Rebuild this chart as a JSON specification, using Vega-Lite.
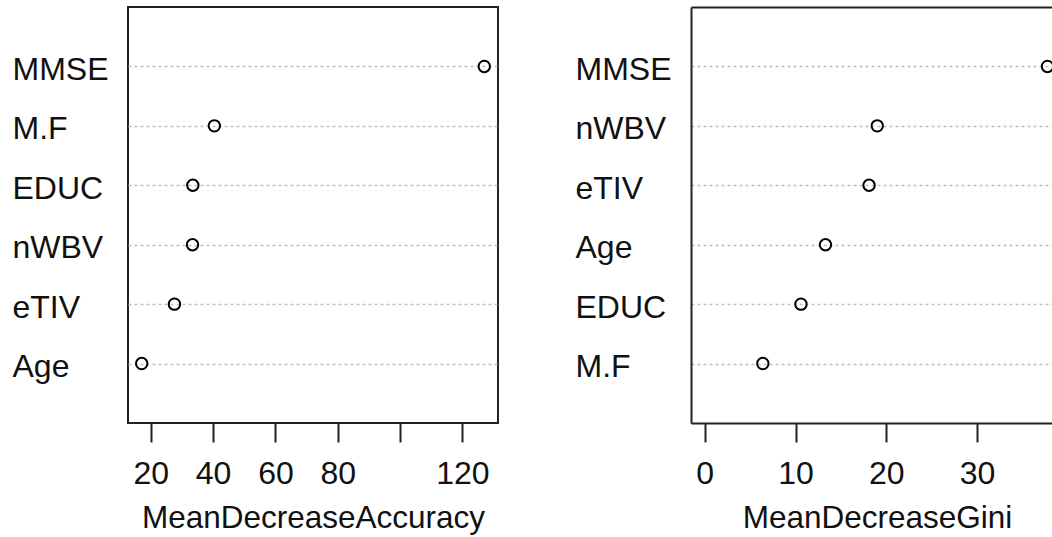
{
  "$schema": "https://vega.github.io/schema/vega-lite/v6.json",
  "background": "white",
  "padding": {"left": 11, "top": 6, "right": 0, "bottom": 0},
  "datasets": {
    "accuracy": [
      {"variable": "MMSE", "MeanDecreaseAccuracy": 127.0},
      {"variable": "M.F", "MeanDecreaseAccuracy": 40.4},
      {"variable": "EDUC", "MeanDecreaseAccuracy": 33.5},
      {"variable": "nWBV", "MeanDecreaseAccuracy": 33.4},
      {"variable": "eTIV", "MeanDecreaseAccuracy": 27.6},
      {"variable": "Age", "MeanDecreaseAccuracy": 17.1}
    ],
    "gini": [
      {"variable": "MMSE", "MeanDecreaseGini": 37.75},
      {"variable": "nWBV", "MeanDecreaseGini": 19.0},
      {"variable": "eTIV", "MeanDecreaseGini": 18.1},
      {"variable": "Age", "MeanDecreaseGini": 13.3},
      {"variable": "EDUC", "MeanDecreaseGini": 10.6},
      {"variable": "M.F", "MeanDecreaseGini": 6.4}
    ]
  },
  "spacing": 76,
  "hconcat": [
    {
      "data": {"name": "accuracy"},
      "width": 370,
      "height": 416,
      "view": {"stroke": "#222", "strokeWidth": 2},
      "mark": {"type": "point", "filled": false, "color": "#000", "size": 130, "strokeWidth": 2, "opacity": 1},
      "encoding": {
        "x": {
          "field": "MeanDecreaseAccuracy",
          "type": "quantitative",
          "scale": {"domain": [12.7, 131.4], "nice": false, "zero": false},
          "axis": {
            "values": [20, 40, 60, 80, 100, 120],
            "labelExpr": "datum.value == 100 ? '' : datum.label",
            "title": "MeanDecreaseAccuracy",
            "domain": false,
            "grid": false,
            "tickSize": 19,
            "labelPadding": 41,
            "labelBaseline": "alphabetic",
            "titleBaseline": "alphabetic",
            "titleY": 104
          }
        },
        "y": {
          "field": "variable",
          "type": "nominal",
          "sort": ["MMSE", "M.F", "EDUC", "nWBV", "eTIV", "Age"],
          "scale": {"type": "point", "padding": 1},
          "axis": {
            "title": null,
            "ticks": false,
            "tickSize": 0,
            "domain": false,
            "grid": true,
            "labelAlign": "left",
            "labelPadding": 116,
            "labelBaseline": "alphabetic",
            "labelOffset": 13
          }
        }
      }
    },
    {
      "data": {"name": "gini"},
      "width": 362.4,
      "height": 416,
      "view": {"stroke": null},
      "layer": [
        {
          "mark": {"type": "point", "filled": false, "color": "#000", "size": 130, "strokeWidth": 2, "opacity": 1, "clip": true},
          "encoding": {
            "x": {
              "field": "MeanDecreaseGini",
              "type": "quantitative",
              "scale": {"domain": [-1.51, 38.4], "nice": false, "zero": false},
              "axis": {
                "orient": "bottom",
                "values": [0, 10, 20, 30],
                "title": "MeanDecreaseGini",
                "domain": true,
                "grid": false,
                "tickSize": 19,
                "labelPadding": 41,
                "labelBaseline": "alphabetic",
                "titleBaseline": "alphabetic",
                "titleY": 104,
                "titleX": 186
              }
            },
            "y": {
              "field": "variable",
              "type": "nominal",
              "sort": ["MMSE", "nWBV", "eTIV", "Age", "EDUC", "M.F"],
              "scale": {"type": "point", "padding": 1},
              "axis": {
                "title": null,
                "ticks": false,
                "tickSize": 0,
                "domain": true,
                "grid": true,
                "labelAlign": "left",
                "labelPadding": 116,
                "labelBaseline": "alphabetic",
                "labelOffset": 13
              }
            }
          }
        },
        {
          "mark": {"type": "point", "opacity": 0, "clip": true},
          "encoding": {
            "x": {
              "field": "MeanDecreaseGini",
              "type": "quantitative",
              "axis": {"orient": "top", "labels": false, "ticks": false, "title": null, "domain": true, "grid": false}
            }
          }
        }
      ],
      "resolve": {"axis": {"x": "independent"}}
    }
  ],
  "config": {
    "axis": {
      "labelFont": "Liberation Sans",
      "labelFontSize": 32,
      "labelColor": "#111",
      "titleFont": "Liberation Sans",
      "titleFontSize": 31.5,
      "titleFontWeight": "normal",
      "titleColor": "#111",
      "tickColor": "#222",
      "tickWidth": 2,
      "domainColor": "#222",
      "domainWidth": 2,
      "gridColor": "#c0c0c0",
      "gridWidth": 1.3,
      "gridDash": [3, 3],
      "labelOverlap": false,
      "labelFlush": false,
      "labelBound": false
    }
  }
}
